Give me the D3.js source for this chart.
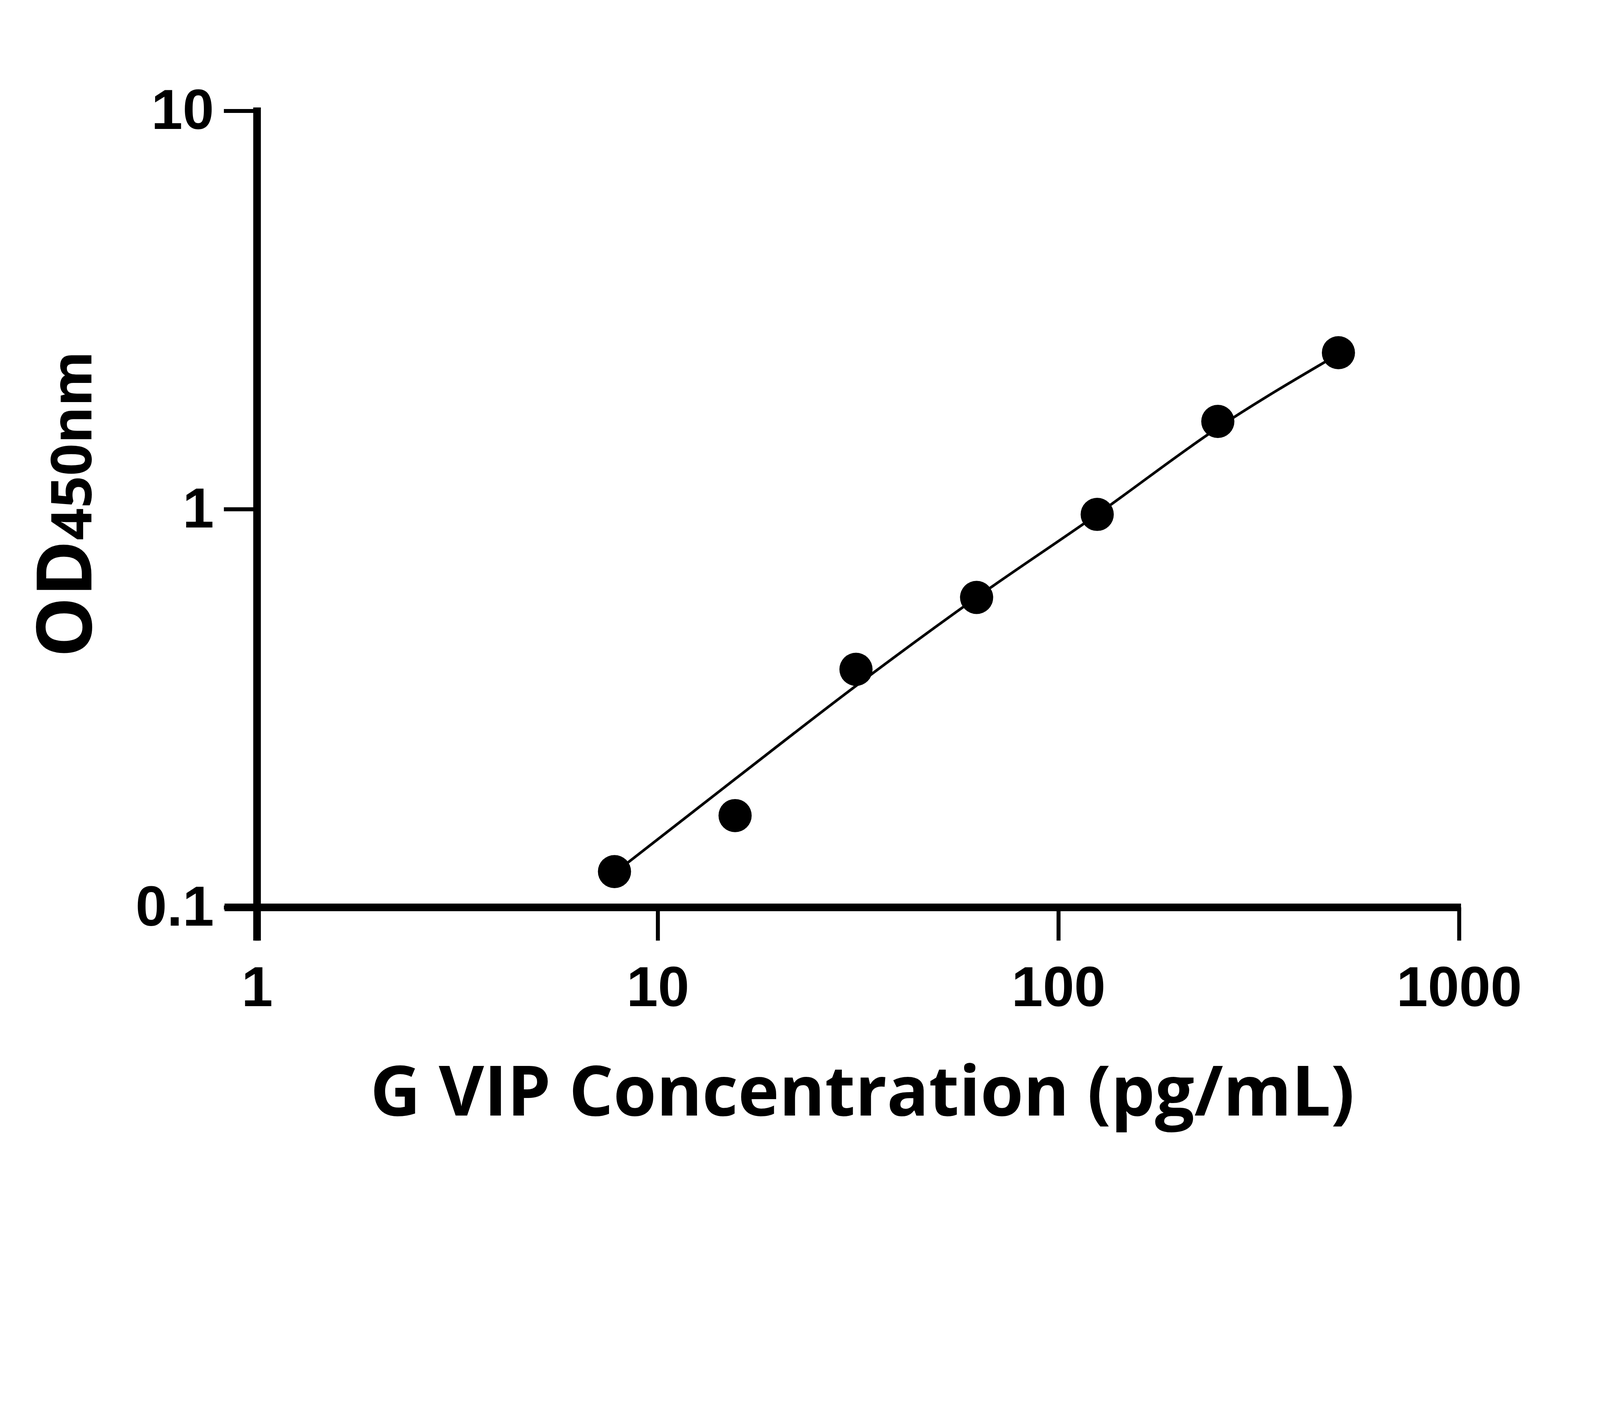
<!DOCTYPE html>
<html><head><meta charset="utf-8">
<script src="https://cdn.jsdelivr.net/npm/d3@7"></script>
<style>html,body{margin:0;background:#fff;overflow:hidden}svg{display:block}</style></head>
<body>
<script>
// data
var concentrations = [7.8, 15.6, 31.25, 62.5, 125, 250, 500];
var od_values = [0.123, 0.170, 0.396, 0.600, 0.970, 1.66, 2.47];
var fit_values = [0.122, 0.21, 0.36, 0.60, 0.97, 1.60, 2.45];
var x_ticks = [1, 10, 100, 1000];
var y_ticks = [0.1, 1, 10];

var width = 4824, height = 3606;
//viewBox so the chart fills the window whatever the pixel ratio
var svg = d3.select("body").append("svg")
    .attr("viewBox", "0 0 " + width + " " + height)
    .attr("width", "100vw").attr("height", (100 * height / width) + "vw");

var x = d3.scaleLog().domain([1, 1000]).range([775, 4399]);
var y = d3.scaleLog().domain([0.1, 10]).range([2735, 334]);

//axes
var yAxis = svg.append("g").attr("transform", "translate(775,0)")
    .call(d3.axisLeft(y).tickValues(y_ticks).tickSize(100).tickPadding(30).tickFormat(d3.format("")));
var xAxis = svg.append("g").attr("transform", "translate(0,2735)")
    .call(d3.axisBottom(x).tickValues(x_ticks).tickSize(100).tickPadding(70).tickFormat(d3.format("")));
[yAxis, xAxis].forEach(function (a) {
    a.select(".domain").remove();
    a.selectAll("line").attr("stroke", "#000").attr("stroke-width", 12);
    a.selectAll("text").attr("font-family", "Liberation Sans, Arial").attr("font-weight", "bold")
        .attr("font-size", 170).attr("fill", "#000");
});
xAxis.selectAll("text").attr("dy", "0.75em");
// thick axis lines
svg.append("line").attr("x1", 775).attr("x2", 775).attr("y1", y(10) - 10).attr("y2", 2835)
    .attr("stroke", "#000").attr("stroke-width", 23);
svg.append("line").attr("x1", 677).attr("x2", x(1000) + 6).attr("y1", 2735).attr("y2", 2735)
    .attr("stroke", "#000").attr("stroke-width", 23);

//fit curve
var line = d3.line().x(function (d, i) { return x(concentrations[i]) })
    .y(function (d) { return y(d) }).curve(d3.curveMonotoneX);
svg.append("path").attr("d", line(fit_values)).attr("fill", "none")
    .attr("stroke", "#000").attr("stroke-width", 8);

//points
svg.selectAll("circle").data(od_values).enter().append("circle")
    .attr("cx", function (d, i) { return x(concentrations[i]) })
    .attr("cy", function (d) { return y(d) })
    .attr("r", 50).attr("fill", "#000");

//titles
svg.append("text").attr("x", 2600).attr("y", 3362).attr("text-anchor", "middle")
    .attr("font-family", "Open Sans").attr("font-weight", "bold").attr("font-size", 210)
    .text("G VIP Concentration (pg/mL)");
var yl = svg.append("text").attr("transform", "translate(275,1520) rotate(-90)")
    .attr("text-anchor", "middle").attr("font-family", "Open Sans").attr("font-weight", "bold");
yl.append("tspan").attr("font-size", 230).text("OD");
yl.append("tspan").attr("font-size", 170).text("450nm");
</script>
</body></html>
